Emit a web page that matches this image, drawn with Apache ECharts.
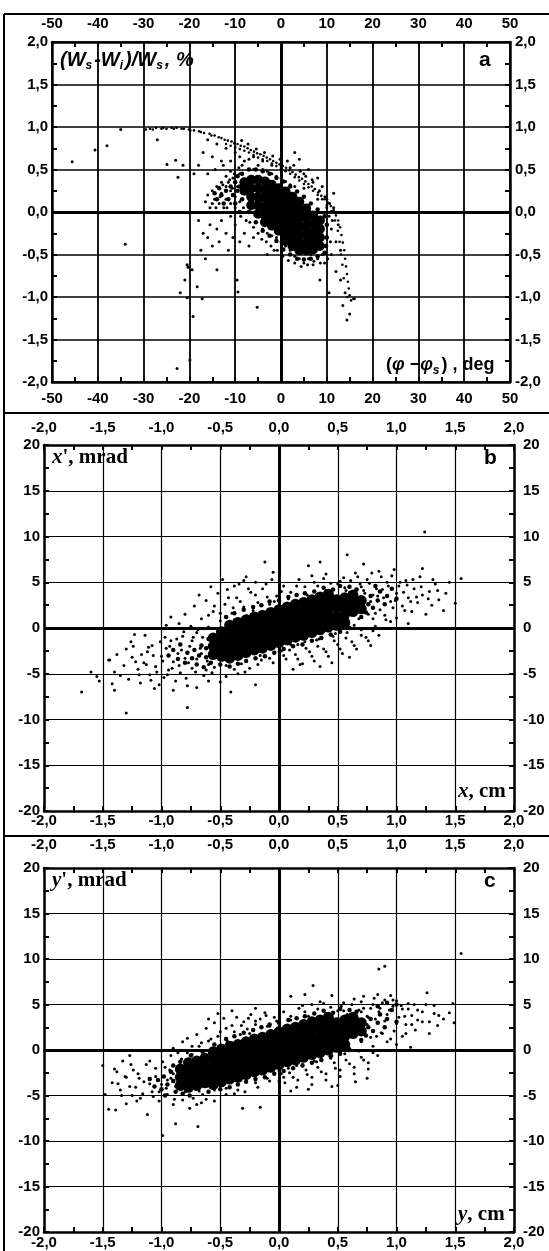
<!DOCTYPE html>
<html>
<head>
<meta charset="utf-8">
<script src="https://cdn.jsdelivr.net/npm/echarts@6/dist/echarts.min.js"></script>
<style>
  html, body { margin: 0; padding: 0; background: #fff; }
  #chart { width: 549px; height: 1251px; }
</style>
</head>
<body>
<div id="chart"></div>
<script>
// tick labels of the three panels
var phaseTicks = [-50, -40, -30, -20, -10, 0, 10, 20, 30, 40, 50];
var energyTicks = [-2, -1.5, -1, -0.5, 0, 0.5, 1, 1.5, 2];
var posTicks = [-2, -1.5, -1, -0.5, 0, 0.5, 1, 1.5, 2];
var angleTicks = [-20, -15, -10, -5, 0, 5, 10, 15, 20];

// panel a : (phi - phi_s) [deg], (Ws - Wi)/Ws [%]
var aCore = [
  [-8,0.35],[-8,0.25],
  [-6.5,0.38],[-6.5,0.28],[-6.5,0.18],[-6.5,0.08],
  [-5,0.38],[-5,0.28],[-5,0.18],[-5,0.08],[-5,-0.02],
  [-3.5,0.36],[-3.5,0.26],[-3.5,0.16],[-3.5,0.06],[-3.5,-0.04],[-3.5,-0.12],
  [-2,0.32],[-2,0.22],[-2,0.12],[-2,0.02],[-2,-0.08],[-2,-0.16],
  [-0.5,0.28],[-0.5,0.18],[-0.5,0.08],[-0.5,-0.02],[-0.5,-0.12],[-0.5,-0.22],
  [1,0.24],[1,0.14],[1,0.04],[1,-0.06],[1,-0.16],[1,-0.26],[1,-0.34],
  [2.5,0.18],[2.5,0.08],[2.5,-0.02],[2.5,-0.12],[2.5,-0.22],[2.5,-0.32],[2.5,-0.4],
  [4,0.12],[4,0.02],[4,-0.08],[4,-0.18],[4,-0.28],[4,-0.38],[4,-0.45],
  [5.5,0.04],[5.5,-0.06],[5.5,-0.16],[5.5,-0.26],[5.5,-0.36],[5.5,-0.45],
  [7,-0.04],[7,-0.14],[7,-0.24],[7,-0.34],[7,-0.44],
  [8.5,-0.1],[8.5,-0.2],[8.5,-0.3],[8.5,-0.4]
];
var aMid = [
  [-14,0.15],[-13,0.2],[-12.5,0.1],[-12,0.25],[-11.5,0.15],[-11,0.3],[-10.5,0.2],[-10,0.35],[-10,0.1],
  [-9.5,0.25],[-9.5,0.42],[-9,0.3],[-9,0.0],[-8.5,0.45],[-8.5,0.15],[-13.5,0.28],[-14.5,0.22],
  [-7,0.5],[-5.5,0.5],[-4,0.48],[-2.5,0.45],[-1,0.4],[0.5,0.36],[2,0.3],[3.5,0.24],[5,0.18],[6.5,0.1],
  [8,0.03],[9.5,-0.05],
  [-7,0.0],[-5.5,-0.12],[-4,-0.22],[-2.5,-0.28],[-1,-0.34],[0.5,-0.44],[2,-0.5],[3.5,-0.55],[5,-0.56],
  [6.5,-0.55],[8,-0.52],[9.5,-0.48],[10,-0.3],[10,-0.15],[9.8,-0.4]
];
var aArc = [
  [-29.5,0.97],[-28.6,0.98],[-28,0.97],[-27.3,0.99],[-26.1,0.98],[-25.7,0.99],[-25,0.98],[-23.9,0.99],
  [-23.4,0.98],[-22.8,0.99],[-21.7,0.98],[-21.2,0.98],[-20.1,0.97],[-19.8,0.96],[-19,0.96],[-17.9,0.95],
  [-17.5,0.94],[-16.8,0.93],[-15.6,0.92],[-15.2,0.9],[-14.5,0.9],[-13.6,0.88],[-13,0.87],[-12.3,0.85],
  [-11.6,0.84],[-10.8,0.83],[-10.2,0.81],[-9.5,0.8],[-8.8,0.78],[-8,0.77],[-7.3,0.75],[-6.6,0.73],
  [-5.9,0.71],[-5.2,0.69],[-4.5,0.68],[-3.8,0.66],[-3.1,0.64],[-2.4,0.62],[-1.7,0.6],[-1,0.58],
  [-0.3,0.56],[0.4,0.54],[1.1,0.52],[1.8,0.49],[2.5,0.47],[3.2,0.44],[3.9,0.41],[4.6,0.39],
  [5.3,0.36],[6,0.33],[6.7,0.3],[7.4,0.27],[8.1,0.23],[8.8,0.19],[9.5,0.15],[10.2,0.11],
  [10.9,0.07],[11.5,0.02],[12,-0.04],[12.5,-0.1],[12.9,-0.18],[13.2,-0.27],[13.5,-0.36],[13.8,-0.45],
  [14,-0.55],[14.2,-0.64],[14.4,-0.73],[14.6,-0.82],[14.8,-0.9],[15,-0.98],[15.3,-1.04],[14.5,-1.0],[15.8,-1.02],
  [-12,0.8],[-11,0.78],[-10,0.76],[-9,0.74],[-8,0.72],[-7,0.7],[-6,0.67],[-5,0.64],[-4,0.62],[-3,0.6],
  [-2,0.57],[-1,0.54],[0,0.52],[1,0.48],[2,0.45],[3,0.41],[4,0.37],[5,0.33],[6,0.29],[7,0.25],
  [8,0.2],[9,0.15],[10,0.08],[11,0.01],[11.8,-0.1],[12.4,-0.22],[12.8,-0.35],[13.1,-0.5],[13.4,-0.62],[13.7,-0.78]
];
var aHalo = [
  [-16,0.2],[-15,0.25],[-14.5,0.15],[-14,0.3],[-13.5,0.1],[-13,0.22],[-12.5,0.05],[-12,0.3],[-12,0.15],
  [-11.5,0.35],[-11,0.1],[-11,0.25],[-10.5,0.4],[-10,0.18],[-10,0.05],[-9.5,0.3],[-9,0.45],[-9,0.12],
  [-8.5,0.55],[-16.5,0.12],[-15.5,0.05],[-13,0.35],[-12,0.42],[-11,0.48],
  [-18,-0.1],[-17,-0.25],[-16,-0.3],[-15.5,-0.15],[-15,-0.4],[-14,-0.2],[-13.5,-0.35],[-13,-0.1],
  [-12,-0.25],[-11.5,-0.45],[-11,-0.05],[-10.5,-0.3],[-10,-0.15],[-9,-0.35],[-8,-0.25],[-7,-0.4],
  [-6,-0.3],[-17.5,-0.45],[-16.5,-0.55],[-14,-0.68],
  [-20.5,-0.62],[-19.4,-0.68],[-22,-0.95],[-20.5,-1.01],[-19.2,-1.23],[-19.9,-1.74],[-22.7,-1.84],
  [-21,-0.8],[-18.3,-0.88],[-17.2,-1.02],[-20.3,-0.65],[-9.6,-0.8],[-9.4,-0.94],[-5.2,-1.12],
  [-45.6,0.59],[-38,0.78],[-40.6,0.73],[-34,-0.38],[-22.5,0.41],[-24.9,0.56],[-23,0.61],[-21.4,0.55],
  [-27,0.85],[-35,0.97],
  [9,0.3],[10,0.15],[10.5,-0.05],[11,-0.2],[11.5,0.05],[12,-0.35],[12.5,-0.15],[13,-0.45],[11,-0.5],
  [10,-0.4],[9.5,-0.6],[12,-0.7],[13,-0.8],[14,-0.95],[13.5,-1.1],[15,-1.2],[16,-1.02],[10.5,-0.95],
  [8.5,-0.8],[11.5,0.22],[8,0.4],[6,0.5],[4,0.62],[3,0.7],[2,0.52],[5,0.45],[7,0.35],[14.4,-1.27],
  [2,-0.45],[3,-0.52],[4,-0.55],[5,-0.6],[6,-0.55],[7,-0.62],[8,-0.55],[1,-0.4],[0,-0.35],[-1,-0.3],
  [-2,-0.28],[-3,-0.25],[-4,-0.2],[6.5,-0.5],[9,-0.5],[-1.5,-0.45],[-3,-0.5],
  [-6,0.5],[-5,0.55],[-4,0.5],[-3,0.48],[-2,0.45],[-1,0.42],[0,0.4],[1,0.36],[2,0.32],[3,0.3],
  [-8,0.6],[-7,0.62],[-10,0.7],[-12,0.75],[-14,0.8],[-16,0.85],[-9,0.65],[-13,0.6],[-15,0.65],
  [-17,0.7],[-18,0.55],[-19,0.45],[-6,0.65],[-4,0.6],[-2,0.55],[0,0.5],[5,0.28],[8,0.15],[10,0.05]
];
var aMore = [
  [-15,0.1],[-14.2,0.05],[-13.3,0.18],[-12.7,0.32],[-11.8,0.05],[-11.2,0.38],[-10.6,0.28],[-10.2,0.45],
  [-9.8,0.0],[-9.2,0.52],[-8.8,-0.05],[-8.2,0.05],[-7.6,-0.1],[-6.8,-0.12],[-6,-0.18],[-5,-0.25],
  [-4.2,-0.32],[-3.2,-0.35],[-2.2,-0.4],[-0.8,-0.45],[0.4,-0.52],[1.6,-0.57],[3,-0.6],[4.4,-0.64],
  [5.8,-0.62],[7.2,-0.58],[8.6,-0.6],[10.2,-0.55],[10.8,-0.35],[11.2,-0.1],[10.6,0.1],[9.6,0.18],
  [8.4,0.25],[6.8,0.38],[5.4,0.42],[4.2,0.48],[2.8,0.55],[1.4,0.6],[-0.2,0.62],[-1.8,0.66],
  [-3.6,0.7],[-5.4,0.74],[-7.2,0.8],[-8.6,0.84],[-11,0.6],[-12.6,0.55],[-14.4,0.5],[-16,0.45]
];

// panel b : x [cm], x' [mrad]
var bCore = [
  [-0.56,-2.9],[-0.56,-2.0],[-0.56,-1.1],
  [-0.49,-3.1],[-0.49,-2.2],[-0.49,-1.3],[-0.49,-0.4],
  [-0.42,-3.3],[-0.42,-2.4],[-0.42,-1.5],[-0.42,-0.6],[-0.42,0.3],
  [-0.35,-3.0],[-0.35,-2.1],[-0.35,-1.2],[-0.35,-0.3],[-0.35,0.6],
  [-0.28,-2.7],[-0.28,-1.8],[-0.28,-0.9],[-0.28,0.0],[-0.28,0.9],
  [-0.21,-2.4],[-0.21,-1.5],[-0.21,-0.6],[-0.21,0.3],[-0.21,1.2],
  [-0.14,-2.2],[-0.14,-1.3],[-0.14,-0.4],[-0.14,0.5],[-0.14,1.4],
  [-0.07,-1.9],[-0.07,-1.0],[-0.07,-0.1],[-0.07,0.8],[-0.07,1.7],
  [0,-1.6],[0,-0.7],[0,0.2],[0,1.1],[0,2.0],
  [0.07,-1.3],[0.07,-0.4],[0.07,0.5],[0.07,1.4],[0.07,2.3],
  [0.14,-1.0],[0.14,-0.1],[0.14,0.8],[0.14,1.7],[0.14,2.6],
  [0.21,-0.8],[0.21,0.1],[0.21,1.0],[0.21,1.9],[0.21,2.8],
  [0.28,-0.5],[0.28,0.4],[0.28,1.3],[0.28,2.2],[0.28,3.1],
  [0.35,-0.2],[0.35,0.7],[0.35,1.6],[0.35,2.5],[0.35,3.4],
  [0.42,0.1],[0.42,1.0],[0.42,1.9],[0.42,2.8],[0.42,3.7],
  [0.49,0.3],[0.49,1.2],[0.49,2.2],[0.49,3.1],
  [0.56,0.6],[0.56,1.5],[0.56,2.4],[0.56,3.3],
  [0.63,1.8],[0.63,2.7],[0.63,3.6],
  [0.7,2.1],[0.7,3.0]
];
var bMid = [
  [-0.62,-2.2],[-0.62,-3.2],[-0.66,-1.9],[-0.68,-3.0],[-0.72,-2.4],[-0.74,-3.3],[-0.78,-2.7],[-0.8,-3.8],
  [-0.7,-4.0],[-0.64,-4.3],[-0.58,-3.8],[-0.6,-1.2],[-0.86,-3.4],[-0.9,-2.4],[-0.94,-3.0],[-0.84,-1.8],
  [0.74,1.7],[0.76,2.6],[0.78,3.5],[0.8,2.2],[0.84,3.0],[0.86,4.0],[0.9,2.6],[0.92,3.5],[0.96,4.3],
  [0.7,1.2],[0.66,4.2],[0.6,4.5],[1.0,3.2],[0.82,4.6],
  [-0.45,1.2],[-0.38,1.6],[-0.3,2.0],[-0.22,2.3],[-0.15,2.5],[-0.08,2.9],[0.0,3.0],[0.08,3.4],
  [0.15,3.6],[0.22,3.8],[0.3,4.0],[0.38,4.4],[0.46,4.2],[0.52,4.6],
  [-0.5,-4.0],[-0.42,-4.2],[-0.35,-3.9],[-0.28,-3.6],[-0.2,-3.3],[-0.12,-3.1],[-0.04,-2.7],[0.04,-2.3],
  [0.12,-2.0],[0.2,-1.8],[0.28,-1.4],[0.36,-1.1],[0.44,-0.7],[0.52,-0.4],[0.6,0.0]
];
var bHalo = [
  [-1.45,-3.5],[-1.4,-4.8],[-1.35,-5.2],[-1.32,-4.1],[-1.3,-2.3],[-1.28,-5.6],[-1.25,-3.2],[-1.23,-0.7],
  [-1.2,-4.5],[-1.18,-6.0],[-1.15,-3.8],[-1.12,-2.6],[-1.1,-5.1],[-1.08,-1.9],[-1.05,-4.2],[-1.02,-6.2],
  [-1.0,-3.1],[-0.98,-5.4],[-0.96,-2.2],[-0.94,-4.6],[-0.92,-1.4],[-0.9,-3.7],[-0.88,-5.8],[-0.86,-2.8],
  [-0.84,-4.9],[-0.82,-0.9],[-0.8,-3.3],[-0.78,-6.3],[-0.76,-2.0],[-0.74,-4.4],[-1.38,-2.9],[-1.42,-6.1],
  [-1.26,-1.5],[-1.14,-0.8],[-1.06,-6.6],[-0.97,-1.0],[-0.9,-6.8],[-1.6,-4.8],[-1.55,-5.3],
  [-1.68,-7.0],[-1.53,-5.8],[-1.3,-9.3],[-0.78,-8.7],[-1.4,-6.8],[-1.44,-3.5],
  [-0.85,0.5],[-0.8,1.5],[-0.75,0.2],[-0.72,2.4],[-0.7,-0.5],[-0.66,1.0],[-0.62,3.0],[-0.6,0.1],
  [-0.56,1.8],[-0.52,3.8],[-0.5,0.8],[-0.46,2.6],[-0.44,4.2],[-0.4,1.6],[-0.36,3.3],[-0.34,4.8],
  [-0.3,2.3],[-0.27,1.3],[-0.24,3.9],[-0.2,5.0],[-0.18,2.8],[-0.14,4.3],[-0.1,3.4],[-0.06,5.3],
  [-0.04,2.9],[0.02,4.0],[-0.58,4.5],[-0.48,5.3],[-0.38,4.6],[-0.28,5.6],[-0.92,1.2],[-0.96,0.3],
  [-0.68,3.6],[-0.12,7.2],[-0.3,5.2],[-0.05,6.1],
  [0.02,-2.5],[0.06,-3.4],[0.1,-1.8],[0.14,-2.9],[0.18,-4.0],[0.22,-1.5],[0.26,-2.6],[0.3,-3.6],
  [0.34,-1.2],[0.38,-2.3],[0.42,-3.1],[0.46,-0.9],[0.5,-1.8],[0.54,-2.8],[0.58,-0.5],[0.62,-1.5],
  [0.66,-2.3],[0.7,-0.2],[0.74,-1.0],[0.78,-1.9],[0.82,0.2],[0.85,-0.8],[0.35,-4.2],[0.12,-4.5],
  [-0.05,-3.8],[-0.15,-3.5],[-0.25,-4.4],[-0.35,-5.0],[-0.45,-5.3],[-0.2,-6.2],[-0.41,-7.0],[0.2,-3.9],
  [0.45,-3.8],[0.6,-3.2],
  [0.5,4.8],[0.55,5.5],[0.6,3.9],[0.65,6.0],[0.7,4.5],[0.75,5.3],[0.8,3.6],[0.85,6.2],[0.88,4.2],
  [0.92,5.0],[0.95,2.9],[0.98,6.4],[1.0,3.8],[1.02,4.6],[1.05,2.4],[1.08,5.2],[1.1,3.3],[1.13,1.8],
  [1.15,4.3],[1.18,2.8],[1.2,5.6],[1.22,3.6],[1.25,1.5],[1.28,4.0],[1.3,2.5],[1.33,4.8],[1.36,3.1],
  [1.4,1.9],[1.42,3.8],[1.45,5.0],[1.5,2.7],[1.55,5.4],[1.22,6.5],[0.58,8.0],[0.9,1.4],[0.95,0.7],
  [1.0,1.1],[1.1,0.5],[0.8,1.0],[0.72,7.0],[1.24,10.5],[0.25,6.8],[0.4,5.9],[0.3,5.0],[0.15,4.6],[0.35,7.2],
  [-0.65,-1.0],[-0.6,-4.0],[-0.55,-4.3],[-0.5,-0.2],[-0.45,-4.1],[-0.38,0.9],[-0.32,-3.9],[-0.22,1.9],
  [-0.16,-3.0],[-0.08,2.6],[0.0,-2.6],[0.08,3.2],[0.16,-1.8],[0.24,3.6],[0.32,-1.3],[0.4,4.1],
  [0.48,-0.6],[0.56,4.4],[0.64,0.3],[0.72,4.1],[0.78,2.9],[0.84,3.5],[0.76,1.5],[0.68,1.0],
  [-0.7,-3.4],[-0.74,-1.4],[-0.66,-2.8],[-0.62,-4.6]
];
var bMore = [
  [0.52,5.1],[0.57,4.1],[0.61,5.2],[0.64,3.5],[0.67,5.6],[0.69,4.8],[0.73,3.8],[0.77,4.9],[0.79,6.0],
  [0.83,4.3],[0.87,5.6],[0.89,3.3],[0.93,4.6],[0.96,5.7],[0.99,3.0],[1.03,5.0],[1.06,3.9],[1.09,4.7],
  [1.12,2.9],[1.14,5.3],[1.17,3.4],[1.21,4.5],[1.27,3.2],[1.31,5.3],[1.35,4.1],[0.86,2.0],[0.97,2.2],
  [1.07,1.9],[0.91,0.9],[0.82,1.6],
  [-0.57,-4.9],[-0.61,-3.6],[-0.64,-5.2],[-0.67,-2.2],[-0.71,-4.8],[-0.73,-1.0],[-0.77,-3.8],[-0.79,-5.5],
  [-0.83,-2.4],[-0.85,-4.1],[-0.87,-1.2],[-0.91,-4.4],[-0.93,-2.0],[-0.95,-5.1],[-0.99,-3.6],[-1.01,-1.5],
  [-1.04,-4.8],[-1.07,-3.0],[-1.09,-5.7],[-1.11,-2.1],[-1.13,-4.0],[-1.17,-2.9],[-1.19,-5.1],[-1.22,-3.7],
  [-1.24,-2.0],[-0.69,-0.2],[-0.81,-0.4],[-0.6,-5.8],[-0.7,-6.5],[-0.5,-5.9],
  [-0.6,1.4],[-0.55,2.4],[-0.5,1.6],[-0.43,3.3],[-0.39,2.2],[-0.33,2.9],[-0.26,4.3],[-0.2,3.6],
  [-0.11,4.8],[-0.02,3.5],[0.04,4.6],[0.1,3.9],[0.17,5.3],[0.22,4.5],[0.28,5.7],[0.33,4.6],[0.38,5.4],[0.44,4.9],
  [0.04,-3.0],[0.09,-2.4],[0.16,-3.4],[0.23,-2.2],[0.28,-3.1],[0.33,-2.0],[0.4,-2.6],[0.47,-1.4],
  [0.52,-2.3],[0.57,-1.1],[0.64,-1.9],[0.7,-0.8],[0.76,-1.4],[0.8,-0.3],[-0.08,-3.3],[-0.18,-4.0],
  [-0.29,-4.8],[-0.38,-4.5]
];

// panel c : y [cm], y' [mrad]
var cCore = [
  [-0.84,-3.9],[-0.84,-3.0],[-0.84,-2.1],
  [-0.77,-4.1],[-0.77,-3.2],[-0.77,-2.3],[-0.77,-1.4],
  [-0.7,-3.9],[-0.7,-3.0],[-0.7,-2.1],[-0.7,-1.2],
  [-0.63,-3.6],[-0.63,-2.7],[-0.63,-1.8],[-0.63,-0.9],
  [-0.56,-3.8],[-0.56,-2.9],[-0.56,-2.0],[-0.56,-1.1],[-0.56,-0.2],
  [-0.49,-3.5],[-0.49,-2.6],[-0.49,-1.7],[-0.49,-0.8],[-0.49,0.1],
  [-0.42,-3.2],[-0.42,-2.3],[-0.42,-1.4],[-0.42,-0.5],[-0.42,0.4],
  [-0.35,-3.0],[-0.35,-2.1],[-0.35,-1.2],[-0.35,-0.3],[-0.35,0.6],
  [-0.28,-2.7],[-0.28,-1.8],[-0.28,-0.9],[-0.28,0.0],[-0.28,0.9],
  [-0.21,-2.4],[-0.21,-1.5],[-0.21,-0.6],[-0.21,0.3],[-0.21,1.2],
  [-0.14,-2.2],[-0.14,-1.3],[-0.14,-0.4],[-0.14,0.5],[-0.14,1.4],
  [-0.07,-1.9],[-0.07,-1.0],[-0.07,-0.1],[-0.07,0.8],[-0.07,1.7],
  [0,-1.6],[0,-0.7],[0,0.2],[0,1.1],[0,2.0],
  [0.07,-1.3],[0.07,-0.4],[0.07,0.5],[0.07,1.4],[0.07,2.3],
  [0.14,-1.1],[0.14,-0.2],[0.14,0.7],[0.14,1.6],[0.14,2.5],
  [0.21,-0.8],[0.21,0.1],[0.21,1.0],[0.21,1.9],[0.21,2.8],
  [0.28,-0.5],[0.28,0.4],[0.28,1.3],[0.28,2.2],[0.28,3.1],
  [0.35,-0.3],[0.35,0.6],[0.35,1.5],[0.35,2.4],[0.35,3.3],
  [0.42,0.0],[0.42,0.9],[0.42,1.8],[0.42,2.7],[0.42,3.6],
  [0.49,0.3],[0.49,1.2],[0.49,2.1],[0.49,3.0],
  [0.56,0.6],[0.56,1.5],[0.56,2.4],[0.56,3.3],
  [0.63,1.8],[0.63,2.7],[0.63,3.6],
  [0.7,2.1],[0.7,3.0]
];
var cMid = [
  [-0.9,-3.4],[-0.92,-2.4],[-0.95,-3.8],[-0.98,-2.9],[-1.0,-4.3],[-1.03,-3.3],[-0.88,-4.6],[-0.82,-4.8],
  [-0.76,-5.0],[-0.9,-1.7],[-0.84,-1.3],[-1.06,-4.0],[-1.1,-3.2],[-0.97,-5.0],
  [0.74,1.6],[0.76,2.5],[0.78,3.4],[0.8,2.1],[0.84,3.0],[0.86,3.9],[0.9,2.5],[0.92,3.4],[0.96,4.4],
  [0.7,1.1],[0.66,4.2],[0.6,4.4],[1.0,3.1],[0.84,4.8],[0.92,5.2],[1.0,5.0],
  [-0.75,-0.6],[-0.65,-0.2],[-0.55,0.6],[-0.45,1.2],[-0.38,1.5],[-0.3,1.9],[-0.22,2.2],[-0.15,2.5],
  [-0.08,2.8],[0.0,3.0],[0.08,3.3],[0.15,3.5],[0.22,3.7],[0.3,4.0],[0.38,4.3],[0.46,4.1],[0.52,4.5],
  [-0.6,-4.6],[-0.5,-4.3],[-0.42,-4.1],[-0.35,-3.8],[-0.28,-3.5],[-0.2,-3.2],[-0.12,-3.0],[-0.04,-2.6],
  [0.04,-2.3],[0.12,-2.0],[0.2,-1.7],[0.28,-1.4],[0.36,-1.1],[0.44,-0.7],[0.52,-0.4],[0.6,0.0]
];
var cHalo = [
  [-1.5,-1.7],[-1.45,-6.5],[-1.39,-6.6],[-1.42,-3.6],[-1.38,-2.4],[-1.35,-4.4],[-1.3,-5.9],[-1.3,-3.0],
  [-1.26,-1.6],[-1.22,-4.1],[-1.2,-2.6],[-1.18,-5.3],[-1.15,-3.5],[-1.12,-7.1],[-1.1,-1.2],[-1.08,-4.6],
  [-1.05,-2.9],[-1.02,-5.6],[-1.0,-3.8],[-0.99,-9.4],[-0.97,-1.9],[-0.95,-4.9],[-0.92,-3.1],[-0.9,-6.0],
  [-0.88,-8.1],[-0.86,-2.4],[-0.84,-4.2],[-0.82,-5.5],[-0.8,-1.3],[-0.78,-3.5],[-0.76,-5.0],[-0.74,-0.5],
  [-0.72,-2.7],[-0.7,-6.0],[-0.69,-8.4],[-0.68,-4.5],[-0.65,-1.8],[-0.62,-5.4],[-0.6,-3.2],[-1.27,-0.6],
  [-1.33,-1.2],[-1.48,-4.9],[-1.25,-5.0],
  [-0.82,0.9],[-0.78,1.3],[-0.74,0.4],[-0.7,1.7],[-0.66,0.8],[-0.62,2.4],[-0.58,1.2],[-0.55,3.0],
  [-0.5,2.0],[-0.47,3.5],[-0.44,1.0],[-0.4,2.7],[-0.36,3.6],[-0.33,1.7],[-0.3,3.1],[-0.27,2.3],
  [-0.24,3.9],[-0.2,2.8],[-0.16,3.4],[-0.12,4.1],[-0.08,2.6],[-0.04,3.6],[-0.9,0.2],[-0.86,-0.3],
  [-0.52,4.0],[-0.4,4.3],[-0.6,3.4],[-0.2,4.6],
  [0.02,-2.6],[0.05,-3.6],[0.08,-2.0],[0.12,-3.0],[0.15,-4.1],[0.2,-1.6],[0.24,-2.7],[0.28,-3.8],
  [0.32,-1.3],[0.36,-2.4],[0.4,-3.3],[0.44,-0.9],[0.48,-2.0],[0.52,-2.9],[0.56,-0.4],[0.6,-1.5],
  [0.64,-2.6],[0.68,-0.1],[0.72,-1.1],[0.76,-2.1],[0.8,0.4],[0.84,-0.6],[0.25,-4.3],[0.1,-4.5],
  [0.0,-3.4],[-0.1,-3.1],[-0.2,-3.6],[-0.31,-6.4],[-0.16,-6.3],[-0.35,-4.4],[-0.45,-4.9],[0.45,-4.0],
  [0.65,-3.5],[0.75,-3.1],[0.5,-3.9],
  [0.5,4.3],[0.55,5.2],[0.6,3.8],[0.64,5.6],[0.68,4.4],[0.72,5.9],[0.76,3.6],[0.8,5.0],[0.84,6.1],
  [0.86,4.6],[0.9,5.5],[0.92,3.9],[0.95,6.0],[0.97,4.8],[1.0,5.4],[1.02,3.6],[1.05,4.5],[1.08,2.8],
  [1.1,5.1],[1.13,3.8],[1.16,2.2],[1.18,4.4],[1.22,3.1],[1.25,5.0],[1.26,6.3],[1.28,1.8],[1.32,4.0],
  [1.35,2.7],[1.4,3.4],[1.45,4.1],[1.49,3.0],[1.48,5.1],[0.85,8.9],[0.9,9.2],[0.29,7.1],[0.1,5.9],
  [0.22,6.1],[1.55,10.6],[0.95,1.2],[1.0,0.6],[1.05,1.5],[1.12,0.3],[0.88,1.8],[0.35,5.3],[0.45,6.0],[0.2,4.9],
  [-0.6,-0.6],[-0.55,-4.4],[-0.5,-0.1],[-0.45,-4.2],[-0.4,0.8],[-0.35,-3.8],[-0.25,1.8],[-0.2,-3.3],
  [-0.1,2.6],[0.0,-2.3],[0.1,3.3],[0.15,-1.7],[0.25,3.7],[0.3,-1.2],[0.4,4.0],[0.45,-0.6],
  [0.55,4.3],[0.6,0.2],[0.7,4.2],[0.75,2.8],[0.82,3.4],[0.78,1.4],[0.7,0.9],[-0.7,-3.5],
  [-0.75,-1.5],[-0.8,-2.2],[-0.85,-3.0],[-0.9,-2.6],[-0.95,-3.3],[-0.88,-4.0]
];
var cMore = [
  [0.53,4.8],[0.58,3.9],[0.62,5.0],[0.66,3.4],[0.7,5.3],[0.72,4.6],[0.75,3.7],[0.78,4.6],[0.81,5.7],
  [0.85,4.2],[0.88,5.2],[0.9,3.2],[0.94,4.4],[0.97,5.5],[1.0,2.9],[1.04,4.9],[1.07,3.7],[1.1,4.5],
  [1.13,2.8],[1.15,5.0],[1.18,3.3],[1.22,4.2],[1.28,3.1],[1.32,4.9],[1.36,3.8],[0.87,1.9],[0.98,2.1],
  [1.08,1.8],[0.92,0.9],[0.83,1.5],
  [-0.65,-4.9],[-0.7,-3.8],[-0.73,-5.3],[-0.76,-2.0],[-0.8,-4.6],[-0.83,-1.0],[-0.86,-3.6],[-0.89,-5.4],
  [-0.93,-2.2],[-0.96,-4.2],[-0.99,-1.3],[-1.02,-4.6],[-1.05,-2.0],[-1.07,-5.1],[-1.1,-3.7],[-1.13,-1.6],
  [-1.16,-4.8],[-1.19,-3.1],[-1.21,-5.6],[-1.24,-2.2],[-1.27,-4.0],[-1.31,-2.9],[-1.34,-5.0],[-1.37,-3.7],
  [-1.4,-2.1],[-0.78,-0.3],[-0.92,-0.6],[-0.66,-5.8],[-0.76,-6.4],[-0.55,-5.6],
  [-0.68,0.4],[-0.6,1.0],[-0.52,1.5],[-0.45,2.4],[-0.38,2.0],[-0.32,2.7],[-0.26,3.5],[-0.2,3.2],
  [-0.11,3.8],[-0.02,3.2],[0.04,4.2],[0.1,3.7],[0.17,4.6],[0.22,4.2],[0.28,5.0],[0.33,4.5],[0.38,5.1],[0.44,4.7],
  [0.04,-3.0],[0.09,-2.5],[0.16,-3.3],[0.23,-2.2],[0.28,-3.0],[0.33,-1.9],[0.4,-2.6],[0.47,-1.4],
  [0.52,-2.2],[0.57,-1.1],[0.64,-1.9],[0.7,-0.8],[0.76,-1.4],[0.8,-0.3],[-0.08,-3.4],[-0.18,-4.1],
  [-0.29,-4.6],[-0.38,-4.8]
];

var SANS = 'Liberation Sans';
var SERIF = 'Liberation Serif';

function fmt(dec) {
  return function (v) { return v.toFixed(dec).replace('.', ','); };
}

function axis(grid, ticks, dec, pos, margin, split, splitW) {
  return {
    gridIndex: grid,
    type: 'value',
    position: pos,
    min: ticks[0],
    max: ticks[ticks.length - 1],
    interval: ticks[1] - ticks[0],
    axisLine: { show: true, onZero: false, lineStyle: { color: '#000', width: 2.5 } },
    axisTick: { show: true, inside: true, length: 5, lineStyle: { color: '#000', width: 2 } },
    minorTick: { show: true, splitNumber: 2, length: 5, lineStyle: { color: '#000', width: 2 } },
    minorSplitLine: { show: false },
    axisLabel: {
      show: true, margin: margin, formatter: fmt(dec), color: '#000',
      fontFamily: SANS, fontWeight: 'bold', fontSize: 15
    },
    splitLine: { show: split, lineStyle: { color: '#000', width: splitW } }
  };
}

function dots(idx, data, size, extra) {
  var s = {
    type: 'scatter',
    xAxisIndex: idx,
    yAxisIndex: idx,
    data: data,
    symbol: 'circle',
    symbolSize: size,
    itemStyle: { color: '#000', opacity: 1 },
    silent: true,
    animation: false
  };
  if (extra) {
    s.markLine = {
      silent: true,
      symbol: ['none', 'none'],
      label: { show: false },
      lineStyle: { color: '#000', width: 3, type: 'solid' },
      animation: false,
      data: [{ xAxis: 0 }, { yAxis: 0 }]
    };
  }
  return s;
}

function label(left, top, text, rich) {
  return { type: 'text', left: left, top: top, z: 100, style: { text: text, rich: rich, fill: '#000' } };
}

function hline(y) {
  return { type: 'line', z: 100, shape: { x1: 4, y1: y, x2: 549, y2: y }, style: { stroke: '#000', lineWidth: 2 } };
}

var sansRich = {
  m: { fontFamily: SANS, fontWeight: 'bold', fontStyle: 'italic', fontSize: 20, lineHeight: 24, verticalAlign: 'middle' },
  s: { fontFamily: SANS, fontWeight: 'bold', fontStyle: 'italic', fontSize: 12, lineHeight: 12, verticalAlign: 'bottom', padding: [0, 2, 0, 0] },
  n: { fontFamily: SANS, fontWeight: 'bold', fontSize: 18, lineHeight: 24, verticalAlign: 'middle' },
  g: { fontFamily: SANS, fontWeight: 'bold', fontStyle: 'italic', fontSize: 18, lineHeight: 24, verticalAlign: 'middle' },
  L: { fontFamily: SANS, fontWeight: 'bold', fontSize: 21, lineHeight: 24 }
};
var serifRich = {
  i: { fontFamily: SERIF, fontWeight: 'bold', fontStyle: 'italic', fontSize: 21, lineHeight: 24 },
  r: { fontFamily: SERIF, fontWeight: 'bold', fontSize: 21, lineHeight: 24 }
};

var chart = echarts.init(document.getElementById('chart'), null, { renderer: 'canvas' });

chart.setOption({
  animation: false,
  backgroundColor: '#fff',
  grid: [
    { left: 52, top: 42, width: 458, height: 340, containLabel: false, outerBoundsMode: 'none' },
    { left: 44, top: 445, width: 470, height: 366, containLabel: false, outerBoundsMode: 'none' },
    { left: 44, top: 868, width: 470, height: 364, containLabel: false, outerBoundsMode: 'none' }
  ],
  xAxis: [
    axis(0, phaseTicks, 0, 'bottom', 9, true, 1.8),
    axis(0, phaseTicks, 0, 'top', 11, false, 1),
    axis(1, posTicks, 1, 'bottom', 2, true, 1.2),
    axis(1, posTicks, 1, 'top', 10, false, 1),
    axis(2, posTicks, 1, 'bottom', 3, true, 1.2),
    axis(2, posTicks, 1, 'top', 16, false, 1)
  ],
  yAxis: [
    axis(0, energyTicks, 1, 'left', 4, true, 1.5),
    axis(0, energyTicks, 1, 'right', 5, false, 1),
    axis(1, angleTicks, 0, 'left', 4, true, 1.2),
    axis(1, angleTicks, 0, 'right', 9, false, 1),
    axis(2, angleTicks, 0, 'left', 4, true, 1.2),
    axis(2, angleTicks, 0, 'right', 9, false, 1)
  ],
  series: [
    dots(0, aHalo, 3, true),
    dots(0, aMore, 3),
    dots(0, aArc, 2.6),
    dots(0, aMid, 4.5),
    dots(0, aCore, 10),
    dots(2, bHalo, 3, true),
    dots(2, bMore, 3),
    dots(2, bMid, 4.5),
    dots(2, bCore, 11),
    dots(4, cHalo, 3, true),
    dots(4, cMore, 3),
    dots(4, cMid, 4.5),
    dots(4, cCore, 11)
  ],
  graphic: [
    { type: 'line', z: 100, shape: { x1: 4, y1: 14, x2: 4, y2: 1251 }, style: { stroke: '#000', lineWidth: 2 } },
    hline(14), hline(413), hline(836),
    label(60, 50, '{m|(W}{s|s}{m|-W}{s|i}{m|)/W}{s|s}{m|, %}', sansRich),
    label(479, 50, '{L|a}', sansRich),
    label(386, 356, '{n|(}{g|φ}{n| −}{g|φ}{s|s}{n|) , deg}', sansRich),
    label(52, 447, '{i|x}{r|\', mrad}', serifRich),
    label(484, 448, '{L|b}', sansRich),
    label(458, 781, '{i|x}{r|, cm}', serifRich),
    label(52, 870, '{i|y}{r|\', mrad}', serifRich),
    label(484, 871, '{L|c}', sansRich),
    label(458, 1204, '{i|y}{r|, cm}', serifRich)
  ]
});
</script>
</body>
</html>
